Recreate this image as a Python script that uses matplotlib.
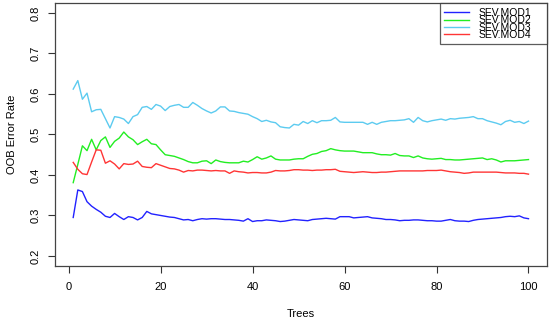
import numpy as np
import matplotlib
matplotlib.use("Agg")
import matplotlib.pyplot as plt

plt.rcParams["font.family"] = ["Liberation Sans", "DejaVu Sans"]

trees = np.arange(1, 101)

# OOB error rate per number of trees
sev_mod1 = [
    0.295, 0.363, 0.359, 0.334, 0.323, 0.315, 0.308, 0.298, 0.295, 0.305,
    0.297, 0.290, 0.297, 0.295, 0.289, 0.295, 0.310, 0.304, 0.302, 0.300,
    0.298, 0.296, 0.295, 0.292, 0.289, 0.290, 0.287, 0.290, 0.292, 0.291,
    0.292, 0.292, 0.291, 0.290, 0.290, 0.289, 0.288, 0.286, 0.292, 0.285,
    0.287, 0.287, 0.289, 0.288, 0.287, 0.285, 0.286, 0.288, 0.290, 0.289,
    0.288, 0.287, 0.290, 0.291, 0.292, 0.293, 0.292, 0.291, 0.297, 0.297,
    0.297, 0.294, 0.295, 0.296, 0.297, 0.294, 0.293, 0.292, 0.290, 0.290,
    0.289, 0.287, 0.288, 0.288, 0.289, 0.289, 0.288, 0.287, 0.287, 0.286,
    0.286, 0.288, 0.290, 0.287, 0.286, 0.286, 0.285, 0.288, 0.290, 0.291,
    0.292, 0.293, 0.294, 0.295, 0.297, 0.298, 0.297, 0.299, 0.294, 0.292,
]
sev_mod2 = [
    0.381, 0.426, 0.472, 0.460, 0.488, 0.462, 0.485, 0.494, 0.468, 0.483,
    0.491, 0.506, 0.494, 0.487, 0.475, 0.482, 0.488, 0.477, 0.475, 0.462,
    0.450, 0.448, 0.446, 0.442, 0.438, 0.433, 0.430, 0.430, 0.434, 0.435,
    0.428, 0.437, 0.433, 0.431, 0.430, 0.430, 0.430, 0.434, 0.432, 0.438,
    0.445, 0.439, 0.442, 0.447, 0.439, 0.437, 0.437, 0.437, 0.439, 0.440,
    0.440, 0.446, 0.451, 0.453, 0.458, 0.460, 0.465, 0.462, 0.460, 0.459,
    0.459, 0.459, 0.457, 0.455, 0.455, 0.455, 0.452, 0.450, 0.450, 0.449,
    0.453, 0.448, 0.447, 0.447, 0.443, 0.447, 0.442, 0.440, 0.439, 0.440,
    0.441, 0.438, 0.438, 0.437, 0.437, 0.438, 0.439, 0.440, 0.441, 0.442,
    0.438, 0.440, 0.437, 0.432, 0.435, 0.435, 0.435, 0.436, 0.437, 0.438,
]
sev_mod3 = [
    0.612, 0.633, 0.587, 0.602, 0.556, 0.561, 0.562, 0.539, 0.516, 0.544,
    0.542, 0.538, 0.527, 0.544, 0.549, 0.567, 0.569, 0.562, 0.574, 0.570,
    0.559, 0.569, 0.572, 0.574, 0.567, 0.567, 0.579, 0.572, 0.564, 0.558,
    0.553, 0.558, 0.568, 0.568, 0.558, 0.557, 0.554, 0.552, 0.550, 0.544,
    0.539, 0.532, 0.535, 0.531, 0.529, 0.519, 0.517, 0.516, 0.525, 0.523,
    0.532, 0.527, 0.534, 0.529, 0.534, 0.534, 0.535, 0.542, 0.531, 0.530,
    0.530, 0.530, 0.530, 0.530, 0.525, 0.530, 0.525, 0.530, 0.532, 0.534,
    0.534, 0.535, 0.536, 0.539, 0.530, 0.542, 0.534, 0.531, 0.534, 0.536,
    0.538, 0.535, 0.539, 0.538, 0.540, 0.541, 0.542, 0.544, 0.539, 0.539,
    0.534, 0.531, 0.528, 0.524, 0.532, 0.535, 0.530, 0.532, 0.527, 0.533,
]
sev_mod4 = [
    0.431, 0.414, 0.403, 0.401, 0.432, 0.462, 0.461, 0.429, 0.435, 0.427,
    0.415, 0.428, 0.426, 0.427, 0.434, 0.421, 0.419, 0.418, 0.428, 0.424,
    0.420, 0.416, 0.415, 0.412, 0.407, 0.411, 0.410, 0.412, 0.412, 0.411,
    0.410, 0.411, 0.410, 0.410, 0.404, 0.410, 0.408, 0.407, 0.405, 0.406,
    0.406, 0.405, 0.405, 0.407, 0.411, 0.410, 0.410, 0.411, 0.413, 0.413,
    0.412, 0.412, 0.411, 0.412, 0.412, 0.413, 0.413, 0.414, 0.409, 0.408,
    0.407, 0.406, 0.407, 0.408, 0.407, 0.406, 0.406, 0.407, 0.407, 0.408,
    0.409, 0.410, 0.410, 0.410, 0.410, 0.410, 0.410, 0.411, 0.411, 0.411,
    0.412, 0.410, 0.408, 0.407, 0.406, 0.404, 0.405, 0.407, 0.407, 0.407,
    0.407, 0.407, 0.407, 0.406, 0.405, 0.405, 0.405, 0.404, 0.404, 0.402,
]

labels = ["SEV.MOD1", "SEV.MOD2", "SEV.MOD3", "SEV.MOD4"]
colors = ["#2222ff", "#22ee22", "#5ccbf0", "#ff3535"]
x_ticks = [0, 20, 40, 60, 80, 100]
y_ticks = [0.2, 0.3, 0.4, 0.5, 0.6, 0.7, 0.8]

fig = plt.figure(figsize=(5.5, 3.24), dpi=100)
ax = fig.add_axes([0.1, 0.18, 0.894, 0.81])

for series, label, color in zip([sev_mod1, sev_mod2, sev_mod3, sev_mod4], labels, colors):
    ax.plot(trees, series, color=color, lw=1.0, label=label)

# R-style axis ranges (4% padding)
ax.set_xlim(-2.96, 103.96)
ax.set_ylim(0.176, 0.824)
ax.set_xticks(x_ticks)
ax.set_xticklabels([str(t) for t in x_ticks])
ax.set_yticks(y_ticks)
ax.set_yticklabels([f"{t:.1f}" for t in y_ticks], rotation=90, va="center")

ax.tick_params(direction="out", length=5, width=0.8, color="#333333",
               labelsize=8, pad=5)
ax.tick_params(axis="x", pad=7)
for sp in ax.spines.values():
    sp.set_color("#444444")
    sp.set_linewidth(0.9)

ax.set_xlabel("Trees", fontsize=8)
ax.set_ylabel("OOB Error Rate", fontsize=8)
ax.xaxis.set_label_coords(0.5, -0.165)
ax.yaxis.set_label_coords(-0.078, 0.5)

# tight, wide legend box in the top-right corner like R's legend()
leg = ax.legend(loc="upper right", bbox_to_anchor=(0.7825, 0.0, 0.2175, 1.0),
                mode="expand", borderaxespad=0, fontsize=7.5, frameon=True,
                fancybox=False, handlelength=2.4, handletextpad=0.9,
                labelspacing=-0.26, borderpad=0.45)
leg.get_frame().set_edgecolor("#333333")
leg.get_frame().set_linewidth(0.9)

fig.savefig("out.png", dpi=100)
